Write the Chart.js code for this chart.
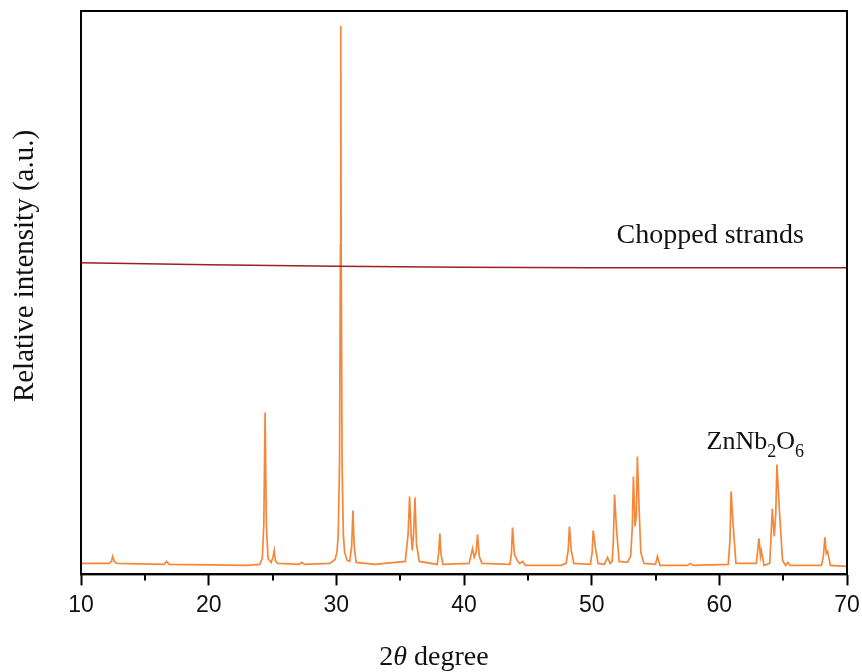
<!DOCTYPE html>
<html>
<head>
<meta charset="utf-8">
<script src="https://cdn.jsdelivr.net/npm/chart.js@4/dist/chart.umd.min.js"></script>
<style>
html,body{margin:0;padding:0;background:#fff;}
#wrap{width:862px;height:672px;}
</style>
</head>
<body>
<div id="wrap"><canvas id="c" width="862" height="672"></canvas></div>
<script>
// ---- data (2θ in degrees, relative intensity in arbitrary units) ----
const xrdAngles = [10.0, 12.2, 12.38, 12.48, 12.6, 12.8, 16.5, 16.7, 16.9, 20.0, 23.0, 24.0, 24.2, 24.32, 24.42, 24.52, 24.65, 24.9, 25.05, 25.13, 25.22, 25.4,
  27.1, 27.3, 27.5, 29.5, 29.9, 30.05, 30.15, 30.25, 30.32, 30.35, 30.38, 30.45, 30.55, 30.65, 30.85, 31.05, 31.2, 31.3, 31.4, 31.55,
  33.0, 35.4, 35.62, 35.74, 35.86, 35.95, 36.05, 36.16, 36.28, 36.5, 37.9, 38.02, 38.11, 38.2, 38.35, 40.4, 40.67, 40.8, 40.95, 41.06, 41.2, 41.4,
  43.6, 43.72, 43.8, 43.95, 44.17, 44.35, 44.6, 44.8, 47.6, 48.0, 48.16, 48.26, 48.4, 48.6, 49.9, 50.04, 50.12, 50.3, 50.5,
  51.0, 51.24, 51.45, 51.6, 51.7, 51.79, 51.95, 52.15, 52.8, 53.05, 53.18, 53.27, 53.4, 53.5, 53.58, 53.71, 53.85, 54.1,
  55.0, 55.15, 55.35, 57.5, 57.73, 57.95, 60.7, 60.84, 60.92, 61.07, 61.3, 62.9, 63.1, 63.22, 63.29, 63.5,
  63.95, 64.15, 64.3, 64.42, 64.51, 64.72, 64.95, 65.2, 65.37, 65.55, 68.0, 68.15, 68.27, 68.38, 68.48, 68.7, 70.0];
const xrdIntensity = [11, 11, 13, 18, 13, 11, 10, 13, 10, 9.5, 9, 10, 16, 50, 162, 50, 16, 12, 18, 24, 14, 11,
  10, 12, 10, 11, 15, 22, 40, 110, 330, 549, 330, 110, 40, 22, 14, 13, 28, 64, 28, 12,
  10, 13, 40, 78, 40, 24, 40, 77, 30, 13, 10, 22, 41, 20, 10, 11, 26, 17, 22, 40, 18, 11,
  10, 22, 47, 20, 14, 11, 13, 9, 9, 11, 24, 48, 24, 11, 10, 22, 44, 26, 11,
  10, 17, 11, 13, 34, 80, 45, 13, 12, 18, 46, 98, 48, 60, 118, 68, 22, 11,
  10, 18, 9, 9, 11, 9, 10, 36, 83, 52, 11, 11, 36, 18, 24, 9,
  11, 66, 38, 60, 110, 61, 14, 9, 12, 9, 9, 18, 37, 21, 23, 9, 8];
const strandAngles = [10, 20, 30, 40, 50, 60, 70];
const strandIntensity = [312, 310, 308.5, 307.5, 307, 307, 307];
const xTicks = [10, 20, 30, 40, 50, 60, 70];
const xMinorTicks = [15, 25, 35, 45, 55, 65];
const labelStrands = "Chopped strands";
const labelPhase = ["ZnNb", "2", "O", "6"];
const yTitle = "Relative intensity (a.u.)";
const xTitle = ["2", "\u03B8", " degree"];

const toPts = (xs, ys) => xs.map((x, i) => ({x: x, y: ys[i]}));

const SERIF = '"Liberation Serif", "Times New Roman", serif';

const decor = {
  id: 'decor',
  afterDraw(chart) {
    const ctx = chart.ctx;
    const a = chart.chartArea;
    const xs = chart.scales.x, ys = chart.scales.y;
    ctx.save();
    // frame
    ctx.strokeStyle = '#000';
    ctx.lineWidth = 2;
    ctx.strokeRect(a.left, a.top, a.right - a.left, a.bottom - a.top);
    // minor ticks
    xMinorTicks.forEach(v => {
      const px = Math.round(xs.getPixelForValue(v));
      ctx.beginPath();
      ctx.moveTo(px, a.bottom);
      ctx.lineTo(px, a.bottom + 6);
      ctx.stroke();
    });
    ctx.fillStyle = '#111';
    // Chopped strands label
    ctx.font = '28px ' + SERIF;
    ctx.textBaseline = 'alphabetic';
    ctx.textAlign = 'left';
    ctx.fillText(labelStrands, xs.getPixelForValue(51.95), ys.getPixelForValue(332));
    // ZnNb2O6 label
    let px = xs.getPixelForValue(59.0);
    const py = ys.getPixelForValue(126);
    const big = '26px ' + SERIF, small = '18px ' + SERIF;
    labelPhase.forEach((t, i) => {
      const sub = i % 2 === 1;
      ctx.font = sub ? small : big;
      ctx.fillText(t, px, sub ? py + 8 : py);
      px += ctx.measureText(t).width;
    });
    // y title
    ctx.save();
    ctx.translate(33, 266);
    ctx.rotate(-Math.PI / 2);
    ctx.font = '29px ' + SERIF;
    ctx.textAlign = 'center';
    ctx.fillText(yTitle, 0, 0);
    ctx.restore();
    // x title with italic theta
    const fonts = ['28px ' + SERIF, 'italic 28px ' + SERIF, '28px ' + SERIF];
    let total = 0;
    xTitle.forEach((t, i) => { ctx.font = fonts[i]; total += ctx.measureText(t).width; });
    let tx = 434 - total / 2;
    xTitle.forEach((t, i) => {
      ctx.font = fonts[i];
      ctx.fillText(t, tx, 665);
      tx += ctx.measureText(t).width;
    });
    ctx.restore();
  }
};

new Chart(document.getElementById('c'), {
  type: 'line',
  data: {
    datasets: [
      {data: toPts(strandAngles, strandIntensity), borderColor: '#9e1f1f', borderWidth: 1.7, pointRadius: 0, tension: 0},
      {data: toPts(xrdAngles, xrdIntensity), borderColor: '#f5873a', borderWidth: 1.7, pointRadius: 0, tension: 0}
    ]
  },
  options: {
    responsive: false,
    animation: false,
    events: [],
    layout: {padding: {left: 81, right: 15, top: 11, bottom: 47}},
    plugins: {legend: {display: false}, tooltip: {enabled: false}},
    scales: {
      x: {
        type: 'linear', min: 10, max: 70,
        afterBuildTicks: (s) => { s.ticks = xTicks.map(v => ({value: v})); },
        afterFit: (s) => { s.paddingRight = 0; s.paddingLeft = 0; },
        grid: {display: true, drawOnChartArea: false, drawTicks: true, tickLength: 11, tickWidth: 2, tickColor: '#000'},
        border: {display: true, color: '#000', width: 2},
        ticks: {color: '#111', padding: 6, font: {family: '"Liberation Sans", Arial, sans-serif', size: 23}, maxRotation: 0}
      },
      y: {
        type: 'linear', min: 0, max: 564, display: false
      }
    }
  },
  plugins: [decor]
});
</script>
</body>
</html>
